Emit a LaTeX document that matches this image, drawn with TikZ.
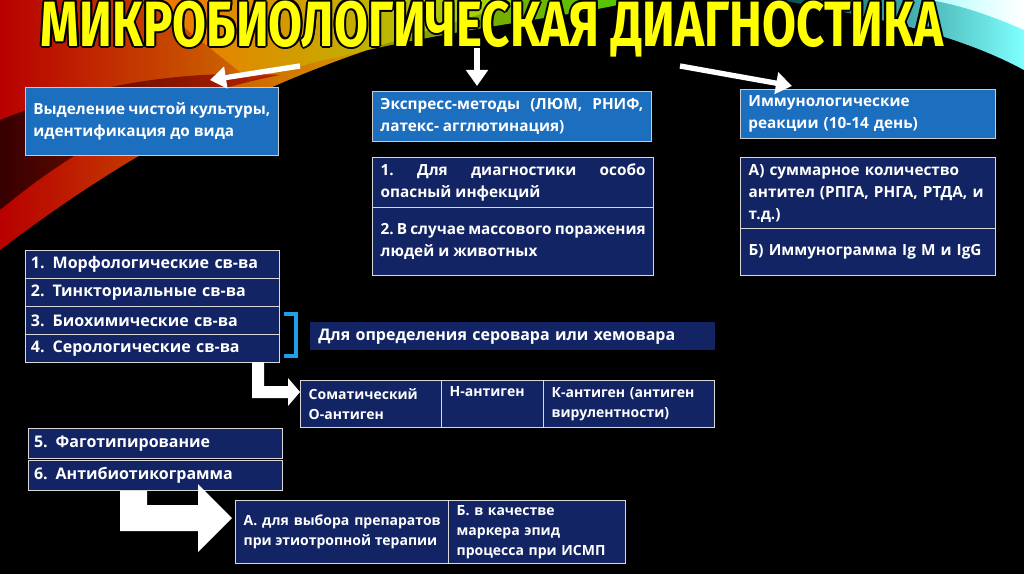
\documentclass[tikz,border=0pt]{standalone}
\usepackage{fontspec}
\setmainfont{Open Sans}
\newfontfamily\titlefont{Fira Sans}
\usetikzlibrary{calc,arrows.meta}
\definecolor{bblue}{RGB}{28,110,190}
\definecolor{navy}{RGB}{18,36,100}
\definecolor{ttl}{RGB}{255,255,0}
\definecolor{brk}{RGB}{30,160,230}
\newcommand{\ttltext}{МИКРОБИОЛОГИЧЕСКАЯ ДИАГНОСТИКА}
\tikzset{
 txt/.style={text=white,font=\fontsize{11.5}{16.5}\selectfont\bfseries,align=justify,inner xsep=6pt,inner ysep=3pt,anchor=north west},
 bluebox/.style={txt,fill=bblue,draw=white!80!black,line width=0.6pt},
 navybox/.style={txt,fill=navy,draw=white!85!black,line width=1pt},
 warr/.style={white,line width=4pt,-{Triangle[length=12pt,width=16pt]}},
 ttlstyle/.style={font=\titlefont\fontsize{48}{48}\selectfont\bfseries,xscale=0.77},
}
\begin{document}
\begin{tikzpicture}[x=0.75pt,y=-0.75pt]
\fill[black] (0,0) rectangle (1024,574);
\useasboundingbox (0,0) rectangle (1024,574);
\begin{scope}
\clip (0,0) rectangle (1024,574);
\shade[left color=red!80!black,right color=yellow!90!orange,opacity=0.9]
 (0,0) -- (520,0) .. controls (420,40) and (250,60) .. (0,250) -- cycle;
\shade[left color=orange,right color=green!60!yellow,opacity=0.8]
 (150,0) -- (640,0) .. controls (560,20) and (420,30) .. (250,80) -- cycle;
\shade[left color=black,right color=red!70!black,opacity=0.7]
 (0,120) .. controls (100,80) and (200,70) .. (280,75) .. controls (150,100) and (60,160) .. (0,210) -- cycle;
\shade[left color=teal!60!black,right color=cyan!50!white]
 (780,0) -- (1024,0) -- (1024,70) .. controls (950,30) and (860,15) .. (780,0) -- cycle;
\shade[left color=cyan!30!white,right color=white]
 (930,0) -- (1024,0) -- (1024,30) .. controls (990,15) and (960,5) .. (930,0) -- cycle;
\end{scope}
% title with black outline
\foreach \dx/\dy in {-2/0,2/0,0/-2,0/2,-1.5/-1.5,1.5/1.5,-1.5/1.5,1.5/-1.5}
  \node[ttlstyle,text=black] at (492+\dx,29+\dy) {\ttltext};
\node[ttlstyle,text=ttl] (title) at (492,29) {\ttltext};
% top boxes
\node[bluebox,text width={237*0.75pt},minimum height={68*0.75pt}] (b1) at (25,87) {Выделение чистой культуры, идентификация до вида};
\node[bluebox,text width={263*0.75pt},minimum height={50*0.75pt}] (b2) at (372,91) {Экспресс-методы (ЛЮМ, РНИФ, латекс- агглютинация)};
\node[bluebox,text width={239*0.75pt},minimum height={49*0.75pt},align=left] (b3) at (740,89) {Иммунологические\\реакции (10-14 день)};
\coordinate (t1) at (300,66); \coordinate (t2) at (477,48); \coordinate (t3) at (680,66);
\draw[warr] (t1) -- (210,80);
\draw[warr] (t2) -- (477,86);
\draw[warr] (t3) -- (792,86);
% express sub
\node[navybox,text width={265*0.75pt},minimum height={50*0.75pt}] (e1) at (372,157) {1.\ Для диагностики особо опасный инфекций};
\node[navybox,text width={265*0.75pt},minimum height={68*0.75pt}] (e2) at (372,207) {2.\ В случае массового поражения людей и животных};
% immuno sub
\node[navybox,text width={239*0.75pt},minimum height={71*0.75pt},align=left] (i1) at (740,157) {А) суммарное количество антител (РПГА, РНГА, РТДА, и т.д.)};
\node[navybox,text width={239*0.75pt},minimum height={47*0.75pt},align=left] (i2) at (740,228) {Б) Иммунограмма Ig M и IgG};
% list
\tikzset{li/.style={navybox,text width={243*0.75pt},minimum height={28*0.75pt},align=left,font=\fontsize{12}{14}\selectfont\bfseries,inner xsep=4pt}}
\node[li] (l1) at (25,250) {1. Морфологические св-ва};
\node[li] (l2) at (25,278) {2. Тинкториальные св-ва};
\node[li] (l3) at (25,306) {3. Биохимические св-ва};
\node[li] (l4) at (25,334) {4. Серологические св-ва};
\draw[brk,line width=3.5pt] (284,314) -- (296,314) -- (296,356) -- (284,356);
\node[txt,fill=navy,text width={389*0.75pt},minimum height={28*0.75pt},align=left,font=\fontsize{12}{14}\selectfont\bfseries] (sero) at (310,322) {Для определения серовара или хемовара};
% antigens
\tikzset{ag/.style={navybox,minimum height={47*0.75pt},align=left,font=\fontsize{10.5}{15}\selectfont\bfseries}}
\node[ag,text width={125*0.75pt}] (a1) at (300,380) {Соматический\\О-антиген};
\node[ag,text width={86*0.75pt}] (a2) at (441,380) {Н-антиген\\\strut};
\node[ag,text width={155*0.75pt}] (a3) at (543,380) {К-антиген (антиген вирулентности)};
\fill[white] (252,362) -- (264,362) -- (264,386) -- (288,386) -- (288,378) -- (300,392) -- (288,406) -- (288,398) -- (252,398) -- cycle;
% 5,6
\tikzset{li2/.style={navybox,text width={243*0.75pt},minimum height={30*0.75pt},align=left,font=\fontsize{12}{14}\selectfont\bfseries,inner xsep=4pt}}
\node[li2] (f5) at (28,428) {5. Фаготипирование};
\node[li2] (f6) at (28,460) {6. Антибиотикограмма};
\node[navybox,text width={197*0.75pt},minimum height={63*0.75pt},font=\fontsize{10.5}{15}\selectfont\bfseries] (r1) at (235,500) {А. для выбора препаратов при этиотропной терапии};
\node[navybox,text width={161*0.75pt},minimum height={63*0.75pt},align=left,font=\fontsize{10.5}{15}\selectfont\bfseries] (r2) at (448,500) {Б. в качестве маркера эпид процесса при ИСМП};
\fill[white] (120,491) -- (147,491) -- (147,505) -- (198,505) -- (198,484) -- (232,518) -- (198,552) -- (198,531) -- (120,531) -- cycle;
\end{tikzpicture}
\end{document}
